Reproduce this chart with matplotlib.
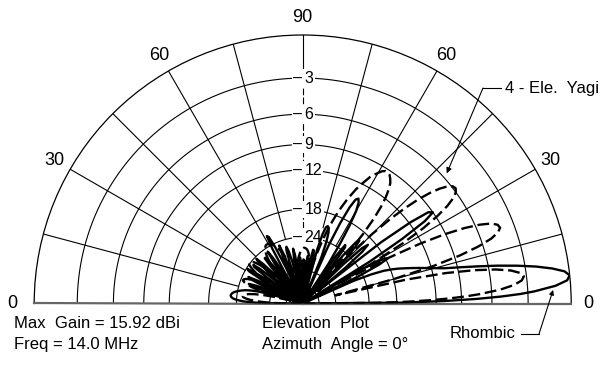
import numpy as np
import matplotlib.pyplot as plt
from matplotlib.lines import Line2D

plt.rcParams['font.family'] = ['Liberation Sans', 'DejaVu Sans']

# elevation angle in degrees: 0 = forward horizon (right), 180 = back horizon (left)
elev = [0, 0.5, 1, 1.5, 2, 2.5] + list(range(3, 180)) + [179.5, 180]

# gain in dB relative to the max gain (15.92 dBi); -99 marks a null
rhombic_db = [
    -99, -17, -11, -7.5, -5.2, -3.6,
    -2.5, -1.0, -0.2, 0, -0.3, -1.1, -2.2, -3.6, -5.2, -7.0, -8.8, -10.5,
    -11.6, -12.6, -13.6, -14.6, -15.6, -16.6, -17.8, -19.3, -22, -27, -99,
    -25, -19.5, -17.5, -18.5, -23, -99,
    -21, -14, -10.3, -9.0, -9.4, -11.8, -17, -45,
    -27, -21, -19.2, -20.5, -27, -99,
    -27, -21.5, -19.8, -20.5, -25, -99,
    -30, -23, -22.5, -26, -99,
    -30, -23, -18.5, -15.8, -14.5, -14.0, -14.3, -15.8, -19, -25, -99,
    -29, -24, -21.8, -20.8, -20.5, -20.8, -22.5, -27, -99,
    -31, -27.5, -27.3, -31, -99,
    -33, -30, -29.6, -32, -99,
    -36, -31.5, -31, -32, -99,
    -34, -30.5, -30, -30.3, -35, -99,
    -40, -29, -27, -31, -99,
    -40, -31, -27.5, -26, -27, -34, -99,
    -38, -28, -25, -29, -99,
    -33, -25, -22, -21.6, -25, -35, -99,
    -36, -27.5, -25, -29, -99,
    -40, -30, -26, -26, -30, -99,
    -45, -33, -27, -24.5, -25.5, -31, -99,
    -35, -27, -25, -25.5, -31, -99,
    -36, -27, -24.3, -25, -30, -99,
    -37, -29, -25.6, -26.5, -32, -99,
    -37, -29, -26.5, -28, -34, -99,
    -35, -30, -27.5, -26, -25, -24.2, -23.5, -23, -22.7, -22.5, -22.5,
    -22.7, -23.2, -24.2, -26, -30, -35, -99,
]

yagi_db = [
    -99, -22, -16.0, -12.6, -10.3, -8.5,
    -7.2, -5.25, -4.05, -3.4, -3.2, -3.45, -4.15, -5.4, -7.4, -10.4, -15.9, -35.6,
    -18.0, -11.7, -8.4, -6.4, -5.1, -4.4, -4.1, -4.2, -4.65, -5.6, -7.0, -9.1,
    -12.2, -17.4, -33,
    -21.1, -14.4, -10.9, -8.8, -7.4, -6.5, -6.0, -5.8, -5.9, -6.3, -7.0, -8.0,
    -9.35, -11.2, -13.65, -17.2, -23.2, -56,
    -24.2, -18.4, -15.3, -13.2, -11.8, -10.8, -10.1, -9.7, -9.4, -9.3, -9.3,
    -9.5, -9.9, -10.3, -10.8, -11.5, -12.2, -13.0, -14.0, -15.0, -16.2, -17.5,
    -19.0, -20.7, -22.8, -25.1, -27.9, -31.6, -37, -50,
    -44, -36.9, -33.5, -31.4, -29.9, -28.9, -28.2, -27.6, -27.3, -27.1, -27.0,
    -27.0, -27.2,
    -27.5, -28.0, -28.6, -29.3, -30.1, -31.2, -32.4, -33.9, -35.9, -38.5,
    -42.5, -50, -57,
    -44.3, -39.4, -36.2, -34, -32.2, -30.7, -29.5, -28.4, -27.4, -26.4, -25.7,
    -25.1, -24.5, -24.1, -23.7, -23.5, -23.4, -23.3, -23.3, -23.5, -23.8,
    -24.3, -24.9, -25.8, -27.0, -28.6, -30.9, -34.2, -40.2, -99,
    -39.5, -33.7, -30.4, -28.1, -26.4, -25.3, -24.5, -24.0, -23.7, -23.8,
    -24.1, -24.8, -25.8, -27.3, -29.6, -33.2, -40.1, -52,
    -36.7, -31.7, -28.8, -26.9, -25.7, -24.95, -24.6, -24.6, -25.1, -26.0,
    -27.4, -29.5, -33.0, -39.4, -57,
    -37.5, -32.2, -29.3, -27.4, -26.3, -25.7, -25.6, -25.8, -26.6, -27.9,
    -29.9, -33.1, -38.9, -45, -99,
]

ring_db = [-3, -6, -9, -12, -18, -24]
inner_ring_db = [-36, -48]
spoke_deg = [15, 30, 45, 60, 75, 105, 120, 135, 150, 165]
angle_labels = [(90, '90', 1.067), (120, '60', 1.067), (60, '60', 1.067),
                (150, '30', 1.067), (30, '30', 1.067), (180, '0', 1.08), (0, '0', 1.064)]


def arrl(db):
    # ARRL log-periodic scale: 0.89 of radius for every 2 dB down
    return 0.89 ** (np.abs(np.asarray(db, dtype=float)) / 2.0)


fig = plt.figure(figsize=(6.05, 3.69), dpi=100)
cx, cy, R = 302.7, 303.5, 268.5
# polar wedge bbox is kept square, so the half disc sits in the middle half of the box
ax = fig.add_axes([(cx - R) / 605, (369 - (cy + R / 2)) / 369, 2 * R / 605, 2 * R / 369],
                  projection='polar')
ax.set_thetamin(0)
ax.set_thetamax(180)
ax.set_ylim(0, 1)
ax.set_xticks([])
ax.set_yticks([])
ax.grid(False)
ax.spines['polar'].set_linewidth(0.9)
ax.spines['inner'].set_visible(False)
for s in ['start', 'end']:
    ax.spines[s].set_color('#666666')
    ax.spines[s].set_linewidth(1.6)

# grid: rings and spokes
th = np.linspace(0, np.pi, 400)
for d in ring_db + inner_ring_db:
    ax.plot(th, np.full_like(th, arrl(d)), color='k', lw=0.8, zorder=1)
for a in spoke_deg:
    ax.plot([np.radians(a)] * 2, [arrl(-24), 1], color='k', lw=0.8, zorder=1)
ax.plot([np.pi / 2] * 2, [arrl(-3), 1], color='k', lw=0.8, zorder=1)
ax.plot([np.pi / 2] * 2, [arrl(-24), arrl(-3)], color='k', lw=0.8,
        linestyle=(0, (6, 2)), zorder=1)

for d in ring_db:
    ax.annotate('\u2013', xy=(np.pi / 2, arrl(d)), xytext=(-0.3, 0), textcoords='offset points',
                ha='right', va='center', fontsize=11.5, zorder=3,
                bbox=dict(boxstyle='square,pad=0.08', fc='white', ec='none'))
    ax.annotate(str(abs(d)), xy=(np.pi / 2, arrl(d)), xytext=(1.2, 0), textcoords='offset points',
                ha='left', va='center', fontsize=11.5, zorder=3,
                bbox=dict(boxstyle='square,pad=0.08', fc='white', ec='none'))

for a, lab, rr in angle_labels:
    ax.text(np.radians(a), rr, lab, ha='center', va='center', fontsize=13, clip_on=False)

# patterns
t = np.radians(elev)
ax.plot(t, arrl(rhombic_db), color='k', lw=1.7, zorder=4, solid_joinstyle='round')
ax.plot(t, arrl(yagi_db), color='k', lw=1.7, linestyle=(0, (5, 2)), zorder=4)

# labels and leaders
def fx(x):
    return x / 605


def fy(y):
    return 1 - y / 369


fig.text(fx(505), fy(88), '4 - Ele.  Yagi', ha='left', va='center', fontsize=12)
fig.add_artist(Line2D([fx(483), fx(501)], [fy(88), fy(88)], color='k', lw=0.8))
ax.annotate('', xy=(np.radians(42.1), 0.723), xytext=(fx(483), fy(88)),
            textcoords='figure fraction',
            arrowprops=dict(arrowstyle='-|>', color='k', lw=0.8, mutation_scale=8,
                            shrinkA=0, shrinkB=0))

fig.text(fx(450), fy(334), 'Rhombic', ha='left', va='center', fontsize=12)
fig.add_artist(Line2D([fx(521), fx(539)], [fy(334), fy(334)], color='k', lw=0.8))
ax.annotate('', xy=(np.radians(3.1), 0.934), xytext=(fx(539), fy(334)),
            textcoords='figure fraction',
            arrowprops=dict(arrowstyle='-|>', color='k', lw=0.8, mutation_scale=7,
                            shrinkA=0, shrinkB=0))

fig.text(fx(14), fy(323), 'Max  Gain = 15.92 dBi', ha='left', va='center', fontsize=12)
fig.text(fx(14), fy(345), 'Freq = 14.0 MHz', ha='left', va='center', fontsize=12)
fig.text(fx(262), fy(323), 'Elevation  Plot', ha='left', va='center', fontsize=12)
fig.text(fx(262), fy(345), 'Azimuth  Angle = 0\u00b0', ha='left', va='center', fontsize=12)

fig.savefig('out.png', dpi=100)
